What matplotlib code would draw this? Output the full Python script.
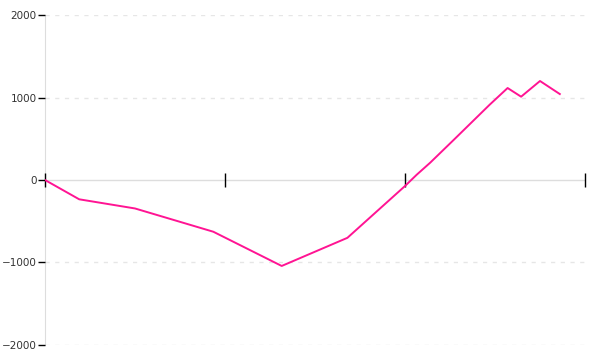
import matplotlib.pyplot as plt

# positions along the x axis (tick units 0..3) and cumulative values
x_vals = [0.0, 0.19, 0.50, 0.935, 1.315, 1.68, 2.0, 2.065, 2.14, 2.27, 2.47, 2.57, 2.645, 2.75, 2.86]
y_vals = [0, -234, -345, -627, -1042, -701, -73, 64, 210, 485, 912, 1115, 1010, 1200, 1042]

y_ticks = [-2000, -1000, 0, 1000, 2000]
x_ticks = [0, 1, 2, 3]

fig = plt.figure(figsize=(6, 3.6), dpi=100)
ax = fig.add_axes([0.075, 0.0417, 0.9, 0.9166])

ax.plot(x_vals, y_vals, color='#ff1493', linewidth=1.4, zorder=4)

ax.set_xlim(0, 3)
ax.set_ylim(-2000, 2000)
ax.set_yticks(y_ticks)
ax.set_xticks(x_ticks)
ax.set_xticklabels([])

for v in y_ticks:
    if v != 0:
        ax.axhline(v, color='#e6e6e6', linewidth=1, linestyle=(0, (3, 4)), zorder=1)
ax.axhline(0, color='#dddddd', linewidth=1, zorder=1)

for s in ['top', 'right']:
    ax.spines[s].set_visible(False)
ax.spines['left'].set_color('#dddddd')
ax.spines['left'].set_zorder(1)
ax.spines['bottom'].set_position(('data', 0))
ax.spines['bottom'].set_linewidth(0)

ax.tick_params(axis='y', direction='out', length=5, width=1, color='black',
               labelsize=7.5, labelcolor='#333333', pad=1)
ax.tick_params(axis='x', direction='inout', length=10, width=1, color='black')
ax.xaxis.set_zorder(3)

fig.savefig('out.png', dpi=100)
